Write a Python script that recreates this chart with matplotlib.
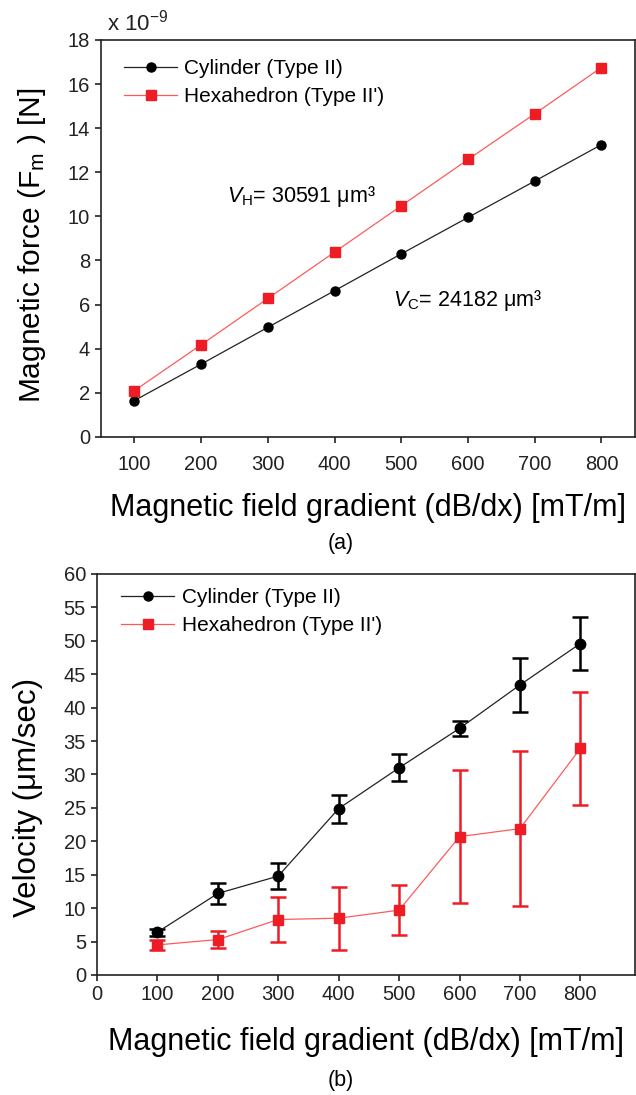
import matplotlib
matplotlib.use('Agg')
import matplotlib.pyplot as plt
from matplotlib.lines import Line2D

# gradient values [mT/m]
gradient = [100, 200, 300, 400, 500, 600, 700, 800]

# (a) magnetic force, x 1e-9 N
force_cyl = [1.65, 3.30, 4.97, 6.63, 8.30, 9.95, 11.60, 13.25]
force_hex = [2.10, 4.18, 6.28, 8.38, 10.48, 12.58, 14.65, 16.75]

# (b) velocity [um/sec] with errors
vel_cyl = [6.4, 12.2, 14.8, 24.9, 31.0, 36.9, 43.4, 49.6]
err_cyl = [0.5, 1.6, 2.0, 2.1, 2.0, 1.1, 4.0, 3.9]
vel_hex = [4.5, 5.3, 8.3, 8.5, 9.7, 20.7, 21.9, 33.9]
err_hex = [0.8, 1.3, 3.3, 4.7, 3.7, 9.9, 11.6, 8.5]

label_cyl = 'Cylinder (Type II)'
label_hex = "Hexahedron (Type II')"

plt.rcParams['font.family'] = ['Liberation Sans', 'DejaVu Sans']
plt.rcParams['mathtext.fontset'] = 'custom'
plt.rcParams['mathtext.rm'] = 'Liberation Sans'
plt.rcParams['mathtext.it'] = 'Liberation Sans:italic'
plt.rcParams['mathtext.default'] = 'regular'

red = '#ee1c25'
red_line = '#ff5a5a'
tick_col = '#222222'

fig = plt.figure(figsize=(6.36, 10.95), dpi=100)

def style_axes(ax, xpad):
    for s in ax.spines.values():
        s.set_linewidth(1.2)
        s.set_color('#222222')
    ax.tick_params(direction='out', length=4, width=1.2, labelsize=14.5,
                   colors=tick_col, pad=4)
    ax.tick_params(axis='x', pad=xpad)

def leg_handles(col, mcol, marker, ms):
    return Line2D([], [], color=col, lw=0.9, marker=marker, ms=ms, mfc=mcol, mec=mcol)

# ---- (a)
ax1 = fig.add_axes([0.159, 0.601, 0.839, 0.3625])
ax1.plot(gradient, force_cyl, color='#222222', lw=0.9, marker='o', ms=6.5,
         mfc='black', mec='black', label=label_cyl)
ax1.plot(gradient, force_hex, color=red_line, lw=0.9, marker='s', ms=6.5,
         mfc=red, mec=red, label=label_hex)
ax1.set_xlim(50, 850)
ax1.set_ylim(0, 18)
ax1.set_xticks(gradient)
ax1.set_yticks(range(0, 19, 2))
style_axes(ax1, 9)
ax1.set_xlabel('Magnetic field gradient (dB/dx) [mT/m]', fontsize=22)
ax1.xaxis.set_label_coords(0.5, -0.141)
ax1.set_ylabel(r'Magnetic force (F$_\mathrm{m}$ ) [N]', fontsize=21.5)
ax1.yaxis.set_label_coords(-0.1, 0.484)
ax1.text(0.011, 1.012, r'x 10$^{-9}$', transform=ax1.transAxes, fontsize=16,
         ha='left', va='bottom', color=tick_col)
ax1.text(238, 10.9, r'$\it{V}_\mathrm{H}$= 30591 μm³', fontsize=15.5, va='center')
ax1.text(488, 6.2, r'$\it{V}_\mathrm{C}$= 24182 μm³', fontsize=15.5, va='center')
ax1.legend(loc='upper left', bbox_to_anchor=(0.043, 0.952), frameon=False,
           fontsize=15, borderpad=0, borderaxespad=0, handlelength=2.55,
           handletextpad=0.35, labelspacing=0.45)
fig.text(0.535, 0.504, '(a)', fontsize=15.5, ha='center', va='center')

# ---- (b)
ax2 = fig.add_axes([0.1525, 0.1096, 0.8455, 0.3662])
ax2.errorbar(gradient, vel_cyl, yerr=err_cyl, color='#222222', lw=0.9,
             marker='o', ms=7.5, mfc='black', mec='black', ecolor='black',
             elinewidth=1.8, capsize=5.5, capthick=1.8)
ax2.errorbar(gradient, vel_hex, yerr=err_hex, color=red_line, lw=0.9,
             marker='s', ms=7.5, mfc=red, mec=red, ecolor=red,
             elinewidth=1.8, capsize=5.5, capthick=1.8)
ax2.set_xlim(0, 890)
ax2.set_ylim(0, 60)
ax2.set_xticks([0] + gradient)
ax2.set_yticks(range(0, 61, 5))
style_axes(ax2, 3)
ax2.set_xlabel('Magnetic field gradient (dB/dx) [mT/m]', fontsize=22)
ax2.xaxis.set_label_coords(0.5, -0.13)
ax2.set_ylabel('Velocity (μm/sec)', fontsize=22.5)
ax2.yaxis.set_label_coords(-0.1, 0.444)
ax2.legend([leg_handles('#222222', 'black', 'o', 6.5), leg_handles(red_line, red, 's', 6.5)],
           [label_cyl, label_hex], loc='upper left', bbox_to_anchor=(0.045, 0.965),
           frameon=False, fontsize=15, borderpad=0, borderaxespad=0,
           handlelength=2.55, handletextpad=0.35, labelspacing=0.45)
fig.text(0.535, 0.0128, '(b)', fontsize=15.5, ha='center', va='center')

fig.savefig('out.png', dpi=100)
